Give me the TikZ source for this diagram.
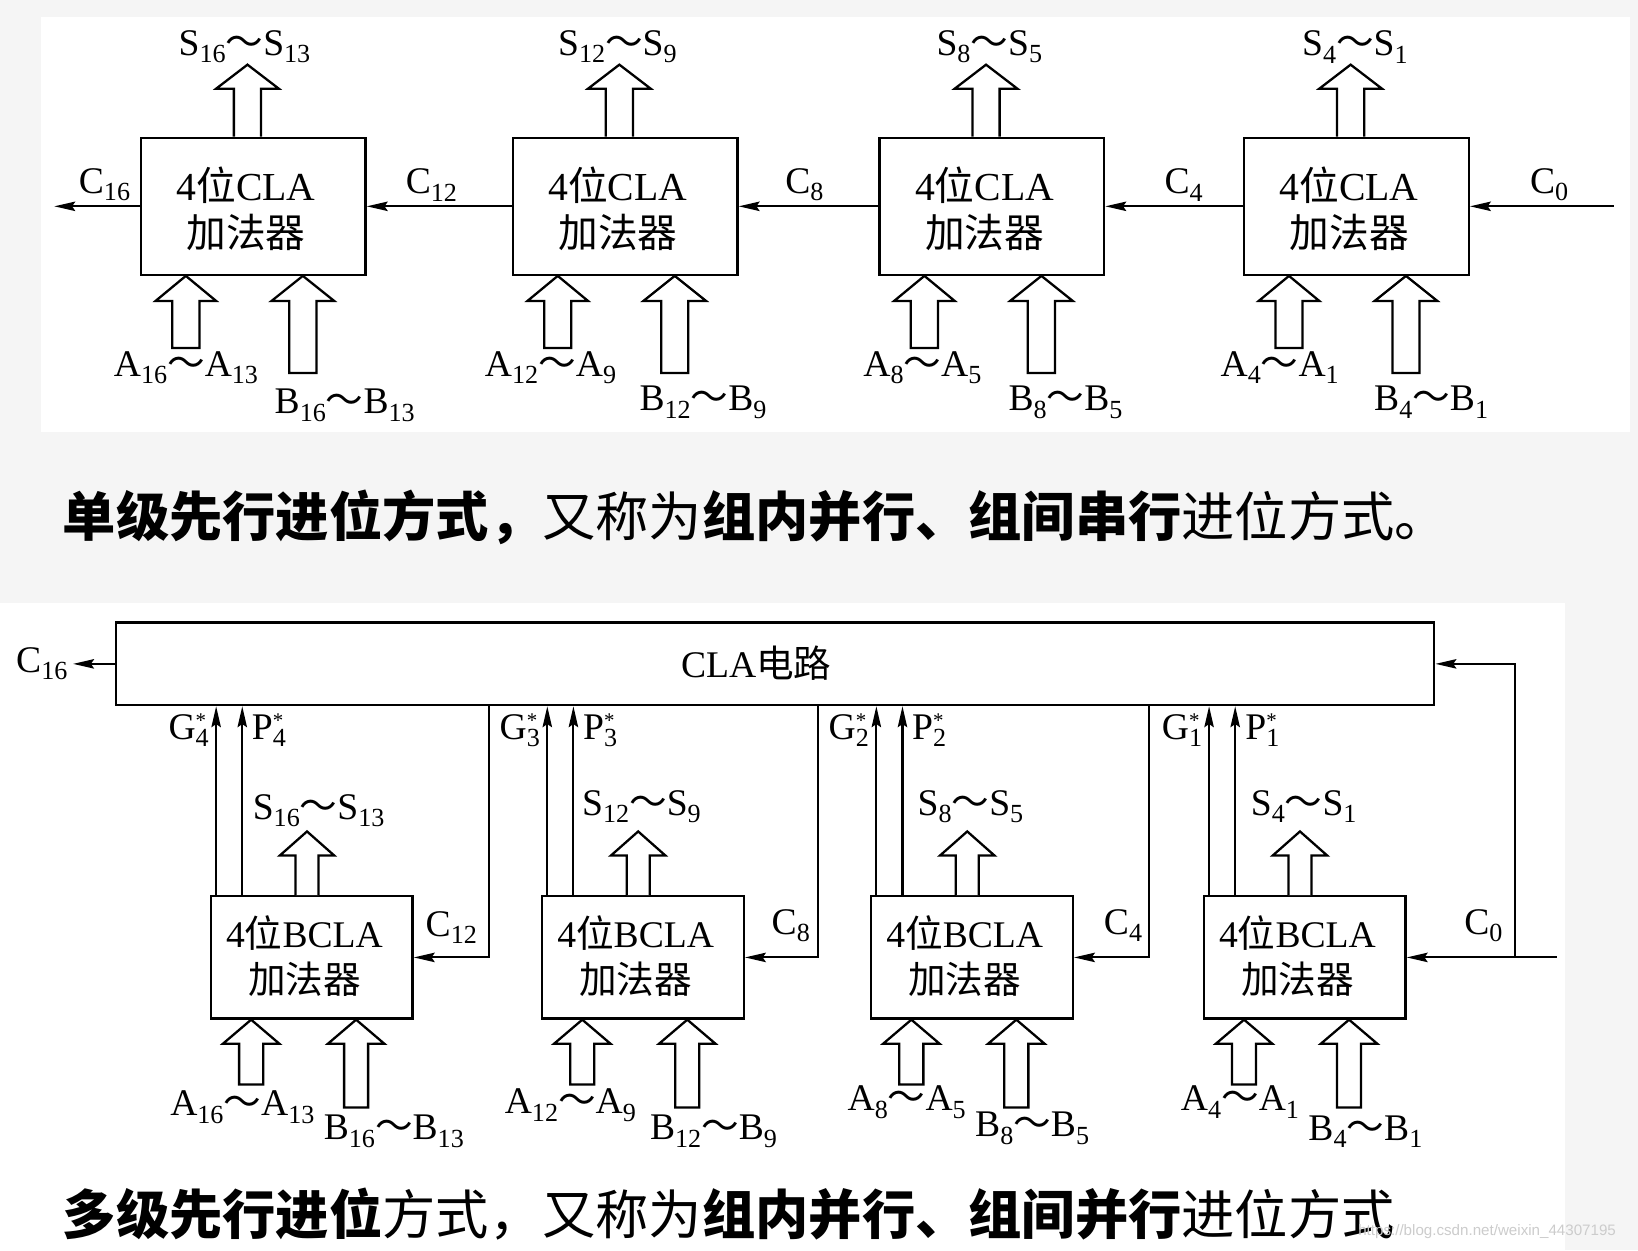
\documentclass[tikz,border=0pt]{standalone}
\usepackage{fontspec}
\setmainfont{Liberation Serif}
\newfontfamily\cjk{Noto Sans CJK SC}
\newfontfamily\wmfont{Liberation Sans}
\usetikzlibrary{arrows.meta,calc}
\newcommand\sub[1]{\raisebox{-7pt}{\fontsize{25}{25}\selectfont#1}}
\newcommand\tld{{\cjk ～}}
\newcommand\rng[3]{#1\sub{#2}\tld#1\sub{#3}}
\newcommand\gp[2]{#1\rlap{\raisebox{11pt}{\fontsize{20}{20}\selectfont *}}\sub{#2}}
\newcommand\inarrow[6]{\draw[hol] ($(#1.south west)+(#2,0)$) -- ++(#3,#6) -- ++({-#3+#4},0) -- ++(0,{#5-#6}) -- ++({-2*#4},0) -- ++(0,{-#5+#6}) -- ++({-#3+#4},0) -- cycle;}
\newcommand\outarrow[6]{\draw[hol] ($(#1.north west)+({#2-#4},0)$) -- ++(0,{-#5}) -- ++({-#3+#4},0) -- ++(#3,{-#6}) -- ++(#3,#6) -- ++({-#3+#4},0) -- ++(0,#5);}
\begin{document}
\begin{tikzpicture}[x=1pt,y=-1pt]
\tikzset{
 box/.style={draw, line width=2.2pt, minimum width=215pt, minimum height=131pt, inner sep=0pt},
 bbox/.style={draw, line width=2.2pt, minimum width=193pt, minimum height=117pt, inner sep=0pt},
 txt/.style={align=center, inner sep=0pt, font=\fontsize{38}{45}\selectfont},
 btxt/.style={align=center, inner sep=0pt, font=\fontsize{36}{44}\selectfont},
 lab/.style={inner sep=0pt, font=\fontsize{36}{40}\selectfont},
 captxt/.style={inner sep=0pt, anchor=west, font=\fontsize{51}{56}\selectfont\cjk},
 arr/.style={line width=2pt, -{Stealth[length=20pt,width=9pt,inset=3pt]}},
 hol/.style={line width=2.2pt, fill=white, line join=miter},
}
\useasboundingbox (0,0) rectangle (1568,1197);
% backgrounds
\fill[gray!8] (0,0) rectangle (1568,1197);
\fill[white] (39,16) rectangle (1560,414);
\fill[white] (0,577) rectangle (1498,1197);

% ---------------- top: single level ----------------
\node[box] (t1) at (242.5,197.5) {};
\node[box] (t2) at (598.5,197.5) {};
\node[box] (t3) at (949.5,197.5) {};
\node[box] (t4) at (1298.5,197.5) {};
\foreach \i in {1,...,4}{
  \node[txt] (tt\i) at ($(t\i.center)+(-7,2)$) {4{\cjk 位}CLA\\{\cjk 加法器}};
  \outarrow{t\i}{103}{30}{13}{46}{23}
  \inarrow{t\i}{44}{29}{13}{69}{24}
  \inarrow{t\i}{156}{30}{13}{93}{24}
}
\coordinate (c16e) at (52,197.5);
\coordinate (c0s) at (1545,197.5);
\draw[arr] (t1.west) -- (c16e);
\draw[arr] (t2.west) -- (t1.east);
\draw[arr] (t3.west) -- (t2.east);
\draw[arr] (t4.west) -- (t3.east);
\draw[arr] (c0s) -- (t4.east);

\node[lab] (tc16) at (100,177) {C\sub{16}};
\node[lab] (tc12) at (413,177) {C\sub{12}};
\node[lab] (tc8) at (770,177) {C\sub{8}};
\node[lab] (tc4) at (1133,177) {C\sub{4}};
\node[lab] (tc0) at (1483,177) {C\sub{0}};

\node[lab] (ts1) at (234,45) {\rng{S}{16}{13}};
\node[lab] (ts2) at (591,45) {\rng{S}{12}{9}};
\node[lab] (ts3) at (947,45) {\rng{S}{8}{5}};
\node[lab] (ts4) at (1297,45) {\rng{S}{4}{1}};
\node[lab] (ta1) at (178,352) {\rng{A}{16}{13}};
\node[lab] (ta2) at (527,352) {\rng{A}{12}{9}};
\node[lab] (ta3) at (883,352) {\rng{A}{8}{5}};
\node[lab] (ta4) at (1225,352) {\rng{A}{4}{1}};
\node[lab] (tb1) at (330,388) {\rng{B}{16}{13}};
\node[lab] (tb2) at (673,385) {\rng{B}{12}{9}};
\node[lab] (tb3) at (1020,385) {\rng{B}{8}{5}};
\node[lab] (tb4) at (1370,385) {\rng{B}{4}{1}};

\node[captxt] (cap1) at (60,495) {{\bfseries 单级先行进位方式，}又称为{\bfseries 组内并行、组间串行}进位方式。};

% ---------------- bottom: multi level ----------------
\node[draw, line width=2.2pt, minimum width=1262pt, minimum height=79pt, inner sep=0pt] (cla) at (742,635.5) {};
\node[lab] (clat) at (724,635) {CLA{\cjk 电路}};
\coordinate (c16b) at (70,635.5);
\draw[arr] (cla.west) -- (c16b);
\node[lab] (bc16) at (40,635) {C\sub{16}};

\node[bbox] (b1) at (298.5,916.5) {};
\node[bbox] (b2) at (615.5,916.5) {};
\node[bbox] (b3) at (930.5,916.5) {};
\node[bbox] (b4) at (1249,916.5) {};
\foreach \i in {1,...,4}{
  \node[btxt] (bt\i) at ($(b\i.center)+(-7,-1)$) {4{\cjk 位}BCLA\\{\cjk 加法器}};
  \outarrow{b\i}{93}{26}{11}{38}{23}
  \inarrow{b\i}{39.5}{27}{11.5}{62}{23}
  \inarrow{b\i}{140}{27}{11.5}{84}{23}
  \coordinate (g\i) at ($(b\i.north west)+(6,0)$);
  \coordinate (p\i) at ($(b\i.north west)+(31,0)$);
  \draw[arr] (g\i) -- (g\i |- cla.south);
  \draw[arr] (p\i) -- (p\i |- cla.south);
}
\coordinate (f1) at (468,0);
\coordinate (f2) at (783,0);
\coordinate (f3) at (1100,0);
\coordinate (f4) at (1450,0);
\coordinate (c0b) at (1490,916.5);
\draw[arr] (f1 |- cla.south) |- (b1.east);
\draw[arr] (f2 |- cla.south) |- (b2.east);
\draw[arr] (f3 |- cla.south) |- (b3.east);
\draw[arr] (c0b) -- (b4.east);
\draw[arr] (f4 |- b4.east) |- (cla.east);

\node[lab,anchor=east] (G4) at (200,699) {\gp{G}{4}};
\node[lab,anchor=east] (G3) at (517,699) {\gp{G}{3}};
\node[lab,anchor=east] (G2) at (832,699) {\gp{G}{2}};
\node[lab,anchor=east] (G1) at (1151,699) {\gp{G}{1}};
\node[lab,anchor=west] (P4) at (241,699) {\gp{P}{4}};
\node[lab,anchor=west] (P3) at (558,699) {\gp{P}{3}};
\node[lab,anchor=west] (P2) at (873,699) {\gp{P}{2}};
\node[lab,anchor=west] (P1) at (1192,699) {\gp{P}{1}};

\node[lab] (bs1) at (305,776) {\rng{S}{16}{13}};
\node[lab] (bs2) at (614,772) {\rng{S}{12}{9}};
\node[lab] (bs3) at (929,772) {\rng{S}{8}{5}};
\node[lab] (bs4) at (1248,772) {\rng{S}{4}{1}};
\node[lab] (bc12) at (432,888) {C\sub{12}};
\node[lab] (bc8) at (757,886) {C\sub{8}};
\node[lab] (bc4) at (1075,886) {C\sub{4}};
\node[lab] (bc0) at (1420,886) {C\sub{0}};
\node[lab] (ba1) at (232,1060) {\rng{A}{16}{13}};
\node[lab] (ba2) at (546,1058) {\rng{A}{12}{9}};
\node[lab] (ba3) at (868,1055) {\rng{A}{8}{5}};
\node[lab] (ba4) at (1187,1055) {\rng{A}{4}{1}};
\node[lab] (bb1) at (377,1083) {\rng{B}{16}{13}};
\node[lab] (bb2) at (683,1083) {\rng{B}{12}{9}};
\node[lab] (bb3) at (988,1080) {\rng{B}{8}{5}};
\node[lab] (bb4) at (1307,1083) {\rng{B}{4}{1}};

\node[captxt] (cap2) at (60,1162) {{\bfseries 多级先行进位}方式，又称为{\bfseries 组内并行、组间并行}进位方式};
\node[inner sep=0pt, anchor=west, text=gray!40, font=\fontsize{14.5}{16}\selectfont\wmfont] (wm) at (1300,1179) {https://blog.csdn.net/weixin\_44307195};
\end{tikzpicture}
\end{document}
